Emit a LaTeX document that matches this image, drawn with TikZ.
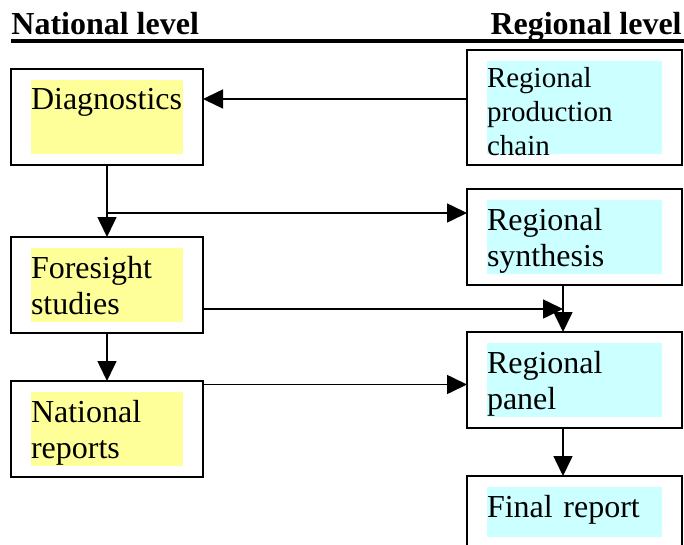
\documentclass[tikz,border=0pt]{standalone}
\usepackage{fontspec}
\setmainfont{Liberation Serif}
\usepackage{xcolor}
\usepackage{tikz}
\usetikzlibrary{arrows.meta, positioning, calc}

\definecolor{natfill}{HTML}{FFFF99}
\definecolor{regfill}{HTML}{CCFFFF}

\begin{document}
\begin{tikzpicture}[
    x=0.5pt, y=-0.5pt,
    node distance=24pt,
    head/.style={
        inner sep=0pt,
        font=\fontsize{16}{18}\selectfont\bfseries
    },
    rule/.style={
        line width=2pt
    },
    hl/.style={
        path picture={
            \fill[#1] ([shift={(10pt,-5.5pt)}]path picture bounding box.north west)
                rectangle ([shift={(-10pt,5.5pt)}]path picture bounding box.south east);
        }
    },
    box/.style={
        rectangle,
        draw,
        line width=1pt,
        outer sep=0pt,
        align=left,
        inner xsep=10pt,
        inner ysep=5.5pt,
        text height=15pt,
        text depth=22pt,
        font=\fontsize{16}{18}\selectfont
    },
    natbox/.style={
        box,
        text width=76pt,
        hl=natfill
    },
    regbox/.style={
        box,
        text width=87.5pt,
        hl=regfill
    },
    arrow/.style={
        -{Triangle[length=10pt, width=9.5pt]},
        line width=0.8pt
    }
]
\useasboundingbox (0,0) rectangle (684,545);

% headings
\node[head, anchor=base west] (natl) at (11,35) {National level};
\node[head, anchor=base east] (regl) at (682,35) {Regional level};
\draw[rule] (11,41) -- (684,41);

% national column
\node[natbox, anchor=north west] (diag) at (11,69) {Diagnostics};
\node[natbox, below=36pt of diag] (fore) {Foresight\\studies};
\node[natbox, below=of fore] (nrep) {National\\reports};

% regional column
\node[regbox, anchor=north west, inner ysep=5.25pt,
      text height=13.5pt, text depth=33.5pt,
      font=\fontsize{14.5}{16.9}\selectfont] (rpc) at (467,50)
{Regional\\production\\chain};
\node[regbox, below=12pt of rpc] (rsyn) {Regional\\synthesis};
\node[regbox, below=23.5pt of rsyn] (rpan) {Regional\\panel};
\node[regbox, text depth=10pt, below=of rpan] (final) {Final report};

\coordinate (split) at ($(diag.south)!2/3!(fore.north)$);
\coordinate (colx) at ([xshift=-5.75pt]rsyn.south);

\draw[arrow] ([yshift=4.25pt]rpc.west) -- ([yshift=4.25pt]rpc.west -| diag.east);
\draw[arrow] (diag) -- (fore);
\draw[arrow] (split) -- (split -| rsyn.west);
\draw[arrow] ([yshift=-12pt]fore.east) -- ([yshift=-12pt]fore.east -| colx);
\draw[arrow] (colx) -- (colx |- rpan.north);
\draw[arrow] (fore) -- (nrep);
\draw[arrow] ([yshift=-2.25pt]rpan.west -| nrep.east) -- ([yshift=-2.25pt]rpan.west);
\draw[arrow] (colx |- rpan.south) -- (colx |- final.north);

\end{tikzpicture}
\end{document}
